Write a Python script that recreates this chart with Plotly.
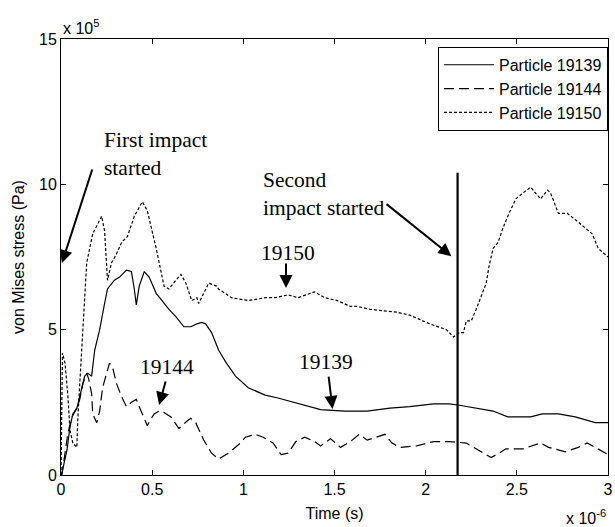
import plotly.graph_objects as go

# Time in units of 1e-6 s, stress in units of 1e5 Pa
t_19139 = [0, 0.005, 0.033, 0.049, 0.065, 0.087, 0.103, 0.114, 0.13, 0.147, 0.168, 0.185, 0.212, 0.239,
           0.255, 0.293, 0.32, 0.359, 0.386, 0.402, 0.413, 0.429, 0.457, 0.484, 0.522, 0.554, 0.592,
           0.63, 0.674, 0.712, 0.745, 0.772, 0.793, 0.826, 0.864, 0.902, 0.957, 1.027, 1.12, 1.19,
           1.283, 1.424, 1.554, 1.679, 1.804, 1.913, 2.043, 2.13, 2.185, 2.277, 2.37, 2.45, 2.576,
           2.64, 2.728, 2.82, 2.93, 3.0]
v_19139 = [0, 0.07, 0.86, 1.65, 2.1, 2.3, 2.7, 3.0, 3.4, 3.5, 3.4, 4.3, 5.0, 5.9,
           6.4, 6.7, 6.8, 7.05, 7.0, 6.4, 5.85, 6.5, 7.0, 6.8, 6.25, 6.0, 5.7,
           5.45, 5.1, 5.1, 5.2, 5.25, 5.2, 4.9, 4.3, 3.9, 3.4, 3.0, 2.75, 2.65,
           2.5, 2.25, 2.2, 2.2, 2.3, 2.35, 2.45, 2.45, 2.4, 2.3, 2.2, 2.0, 2.0,
           2.1, 2.1, 2.0, 1.8, 1.8]

t_19144 = [0, 0.005, 0.022, 0.038, 0.06, 0.087, 0.103, 0.12, 0.141, 0.152, 0.168, 0.174, 0.196, 0.212,
           0.228, 0.25, 0.266, 0.283, 0.304, 0.332, 0.359, 0.386, 0.413, 0.429, 0.457, 0.473, 0.495,
           0.511, 0.538, 0.565, 0.603, 0.647, 0.69, 0.712, 0.739, 0.783, 0.826, 0.864, 0.918, 0.984,
           1.011, 1.065, 1.109, 1.163, 1.207, 1.245, 1.288, 1.337, 1.391, 1.424, 1.478, 1.533, 1.587,
           1.636, 1.679, 1.734, 1.777, 1.815, 1.859, 1.951, 2.005, 2.043, 2.13, 2.223, 2.277, 2.359,
           2.402, 2.44, 2.533, 2.63, 2.674, 2.766, 2.837, 2.886, 2.93, 3.0]
v_19144 = [0, 0, 0.75, 1.45, 2.0, 2.3, 2.6, 3.15, 3.5, 3.3, 2.8, 2.1, 1.8, 2.2,
           3.0, 3.5, 3.85, 3.7, 3.15, 2.7, 2.35, 2.5, 2.6, 2.35, 1.9, 1.7, 1.95,
           2.1, 2.2, 2.15, 2.0, 1.6, 1.85, 1.95, 1.8, 1.2, 0.75, 0.55, 0.75, 1.1,
           1.3, 1.4, 1.3, 1.1, 0.7, 0.75, 1.15, 1.3, 1.15, 1.0, 1.25, 0.95, 1.15,
           1.4, 1.2, 1.3, 1.4, 1.1, 0.95, 1.0, 1.1, 1.15, 1.15, 1.1, 0.9, 0.6,
           0.75, 0.9, 0.9, 1.1, 0.95, 0.8, 0.95, 1.1, 0.95, 0.7]

t_19150 = [0, 0.003, 0.008, 0.022, 0.038, 0.049, 0.065, 0.087, 0.092, 0.103, 0.114, 0.12, 0.141, 0.174,
           0.223, 0.239, 0.255, 0.277, 0.304, 0.332, 0.364, 0.402, 0.446, 0.473, 0.522, 0.565, 0.592,
           0.63, 0.658, 0.685, 0.717, 0.745, 0.755, 0.81, 0.853, 0.864, 0.935, 1.027, 1.12, 1.174,
           1.245, 1.30, 1.39, 1.446, 1.516, 1.587, 1.625, 1.696, 1.842, 1.913, 2.022, 2.114, 2.152,
           2.185, 2.207, 2.223, 2.25, 2.277, 2.315, 2.332, 2.348, 2.37, 2.397, 2.424, 2.457, 2.495,
           2.533, 2.576, 2.603, 2.63, 2.668, 2.685, 2.728, 2.777, 2.837, 2.913, 2.946, 3.0]
v_19150 = [0, 1.3, 4.2, 3.85, 2.7, 1.55, 1.1, 0.95, 1.9, 3.15, 4.3, 5.0, 7.3, 8.3,
           8.9, 8.4, 6.7, 7.3, 7.6, 8.0, 8.2, 8.9, 9.4, 9.1, 7.8, 6.5, 6.4,
           6.7, 6.9, 6.6, 6.0, 6.1, 5.9, 6.6, 6.5, 6.4, 6.1, 6.0, 6.1, 6.1,
           6.2, 6.1, 6.3, 6.1, 6.0, 5.8, 5.8, 5.7, 5.6, 5.5, 5.2, 5.0, 4.75,
           4.9, 4.9, 5.3, 5.3, 5.7, 6.3, 6.6, 7.2, 7.8, 8.0, 8.5, 9.0, 9.5,
           9.7, 9.9, 9.7, 9.5, 9.8, 9.7, 9.0, 9.0, 8.7, 8.3, 7.8, 7.5]

second_impact_t = [2.175, 2.175]
second_impact_v = [0, 10.4]

x_ticks = [0, 0.5, 1, 1.5, 2, 2.5, 3]
x_ticklabels = ["0", "0.5", "1", "1.5", "2", "2.5", "3"]
y_ticks = [0, 5, 10, 15]
y_ticklabels = ["0", "5", "10", "15"]

SANS = "Liberation Sans, Arial, sans-serif"
SERIF = "Liberation Serif, Times New Roman, serif"

fig = go.Figure()
fig.add_trace(go.Scatter(x=t_19139, y=v_19139, mode="lines", name="Particle 19139",
                         line=dict(color="black", width=1.2)))
fig.add_trace(go.Scatter(x=t_19144, y=v_19144, mode="lines", name="Particle 19144",
                         line=dict(color="black", width=1.2, dash="10px,5px")))
fig.add_trace(go.Scatter(x=t_19150, y=v_19150, mode="lines", name="Particle 19150",
                         line=dict(color="black", width=1.2, dash="3px,2px")))
fig.add_trace(go.Scatter(x=second_impact_t, y=second_impact_v, mode="lines", showlegend=False,
                         line=dict(color="black", width=2.2)))

axis_common = dict(showline=True, linecolor="black", linewidth=1, mirror="ticks",
                   ticks="inside", ticklen=5, tickcolor="black", showgrid=False, zeroline=False,
                   ticklabeloverflow="allow",
                   tickfont=dict(family=SANS, size=16, color="black"))

fig.update_xaxes(range=[0, 3], tickvals=x_ticks, ticktext=x_ticklabels,
                 title=dict(text="Time (s)", font=dict(family=SANS, size=16, color="black"), standoff=10),
                 **axis_common)
fig.update_yaxes(range=[0, 15], tickvals=y_ticks, ticktext=y_ticklabels,
                 title=dict(text="von Mises stress (Pa)", font=dict(family=SANS, size=16, color="black"), standoff=10),
                 **axis_common)

annotations = []
# arrows (data coordinates)
arrows = [
    ((0.174, 10.56), (0.005, 7.29)),
    ((1.777, 9.36), (2.141, 7.53)),
    ((1.234, 7.33), (1.234, 6.43)),
    ((1.467, 3.44), (1.489, 2.27)),
    ((0.576, 3.27), (0.538, 2.41)),
]
for (tx, ty), (hx, hy) in arrows:
    annotations.append(dict(x=hx, y=hy, ax=tx, ay=ty, xref="x", yref="y", axref="x", ayref="y",
                            text="", showarrow=True, arrowhead=2, arrowsize=1.3, arrowwidth=2,
                            arrowcolor="black"))

serif_font = dict(family=SERIF, size=21.5, color="black")
annotations += [
    dict(x=0.223, y=12.0, xref="x", yref="y", text="First impact<br>started", showarrow=False,
         xanchor="left", yanchor="top", align="left", font=serif_font),
    dict(x=1.098, y=10.63, xref="x", yref="y", text="Second<br>impact started", showarrow=False,
         xanchor="left", yanchor="top", align="left", font=serif_font),
    dict(x=1.245, y=7.64, xref="x", yref="y", text="19150", showarrow=False, font=serif_font),
    dict(x=1.451, y=3.89, xref="x", yref="y", text="19139", showarrow=False, font=serif_font),
    dict(x=0.582, y=3.71, xref="x", yref="y", text="19144", showarrow=False, font=serif_font),
    dict(x=0, y=1.0, xref="paper", yref="paper", text="x 10<sup>5</sup>", showarrow=False,
         xanchor="left", yanchor="bottom", yshift=0, font=dict(family=SANS, size=16, color="black")),
    dict(x=1.0, y=0, xref="paper", yref="paper", text="x 10<sup>-6</sup>", showarrow=False,
         xanchor="right", yanchor="top", yshift=-30, xshift=0, font=dict(family=SANS, size=16, color="black")),
]

fig.update_layout(
    width=615, height=527,
    margin=dict(l=61, r=2, t=39, b=52),
    paper_bgcolor="white", plot_bgcolor="white",
    annotations=annotations,
    legend=dict(x=1, y=0.982, xanchor="right", yanchor="top", bgcolor="white",
                bordercolor="black", borderwidth=1,
                font=dict(family=SANS, size=16, color="black"), itemwidth=50),
    showlegend=True,
)

fig.write_html("out.html")
